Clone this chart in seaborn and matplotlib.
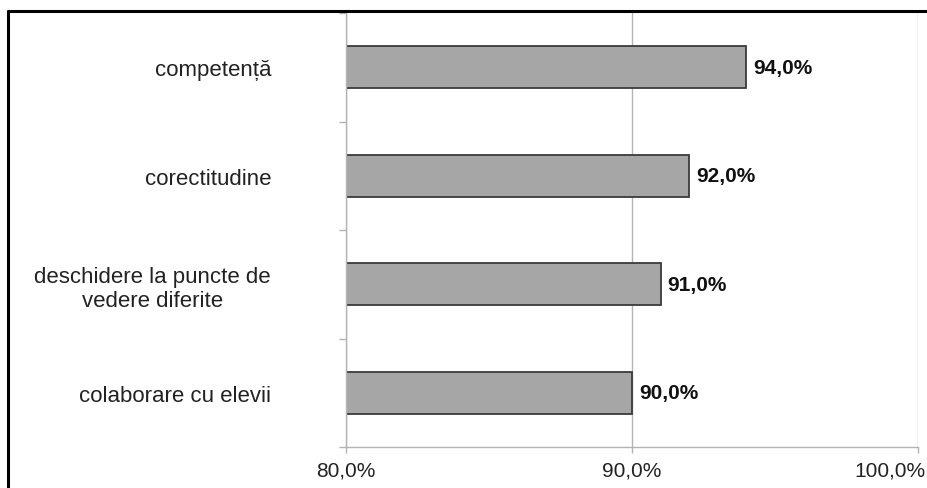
import matplotlib
matplotlib.use("Agg")
import matplotlib.pyplot as plt
import matplotlib.transforms as mtransforms
import seaborn as sns
from matplotlib.lines import Line2D
from matplotlib.ticker import FixedLocator

# ===============================
# Datos
# ===============================
categorias = ["competență", "corectitudine",
              "deschidere la puncte de\nvedere diferite", "colaborare cu elevii"]
valores = [94.0, 92.0, 91.0, 90.0]
xticks = [80, 90, 100]
xtick_labels = ["80,0%", "90,0%", "100,0%"]

# ===============================
# Estilo
# ===============================
sns.set_style("white")
plt.rcParams["font.family"] = ["Liberation Sans", "DejaVu Sans"]

gris_barra = "#a6a6a6"
borde_barra = "#3a3a3a"
gris_linea = "#b4b4b4"

fig = plt.figure(figsize=(9.27, 4.89), dpi=100)
ax = fig.add_axes([346 / 927, 1 - 448 / 489, (918 - 346) / 927, (448 - 14) / 489])

sns.barplot(x=valores, y=categorias, orient="h", color=gris_barra,
            edgecolor=borde_barra, linewidth=1.3, width=0.39, saturation=1, ax=ax)

ax.set_xlim(80, 100)
ax.set_ylim(3.5, -0.5)
ax.set_xticks(xticks)
ax.set_xticklabels(xtick_labels, fontsize=15, color="#222222")
ax.tick_params(axis="x", length=4, width=1, color=gris_linea, pad=6, direction="out", bottom=True)

# la última etiqueta queda pegada al borde derecho, como en el original
ultima = ax.get_xticklabels()[-1]
ultima.set_horizontalalignment("right")
ultima.set_transform(ultima.get_transform() +
                     mtransforms.ScaledTranslation(7 / 100, 0, fig.dpi_scale_trans))

# etiquetas de categorías
ax.set_yticks(range(len(categorias)))
ax.set_yticklabels(categorias, fontsize=16, color="#222222")
for lab in ax.get_yticklabels():
    lab.set_multialignment("center")
ax.tick_params(axis="y", which="major", length=0, pad=54)
ax.yaxis.set_minor_locator(FixedLocator([-0.5, 0.5, 1.5, 2.5, 3.5]))
ax.tick_params(axis="y", which="minor", length=5, width=1, color=gris_linea, left=True)

ax.set_xlabel("")
ax.set_ylabel("")

# rejilla vertical
ax.xaxis.grid(True, color=gris_linea, linewidth=1)
ax.set_axisbelow(True)

for s in ["top", "right"]:
    ax.spines[s].set_visible(False)
for s in ["left", "bottom"]:
    ax.spines[s].set_color(gris_linea)
    ax.spines[s].set_linewidth(1)

# valores sobre las barras
for i, v in enumerate(valores):
    ax.text(v + 0.25, i, f"{v:.1f}%".replace(".", ","), va="center", ha="left",
            fontsize=15, fontweight="bold", color="#111111")

# marco negro (arriba e izquierda)
fig.add_artist(Line2D([8 / 927, 1.0], [1 - 12 / 489, 1 - 12 / 489],
                      transform=fig.transFigure, color="black", linewidth=2.2))
fig.add_artist(Line2D([8 / 927, 8 / 927], [0, 1 - 12 / 489],
                      transform=fig.transFigure, color="black", linewidth=2.2))

fig.savefig("out.png", dpi=100)
